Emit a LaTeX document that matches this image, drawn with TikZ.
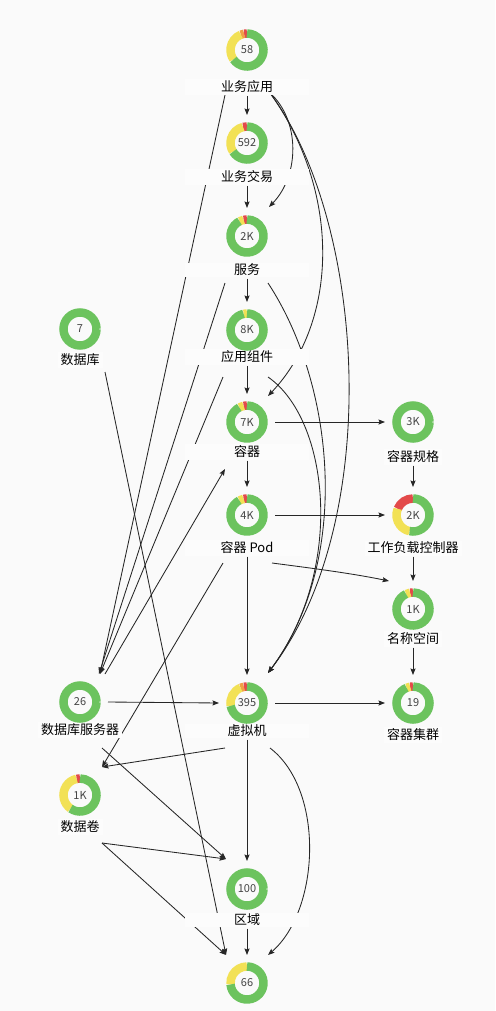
\documentclass[tikz,border=0pt]{standalone}
\usepackage{fontspec}
\setmainfont{Noto Sans CJK SC}
\usetikzlibrary{arrows.meta,calc}
\definecolor{cgreen}{HTML}{6CC35E}
\definecolor{cyellow}{HTML}{F2E155}
\definecolor{cred}{HTML}{E34A4A}
\definecolor{corange}{HTML}{F0A046}
\definecolor{bgc}{HTML}{FAFAFA}
\definecolor{labc}{HTML}{FCFCFC}
\definecolor{edgec}{HTML}{262626}
\definecolor{numc}{HTML}{444444}
\pgfdeclarelayer{bglayer}
\pgfdeclarelayer{edgelayer}
\pgfsetlayers{bglayer,edgelayer,main}
\newcommand\ring[2]{\foreach \cc/\ss/\ee in {#2}{\draw[line width=8.5pt,draw=\cc] ([shift={(\ss:16.5pt)}]#1.center) arc[start angle=\ss,end angle=\ee,radius=16.5pt];}}
\tikzset{
  dn/.style={circle, minimum size=42pt, inner sep=0pt, font=\fontsize{11}{13}\selectfont, text=numc},
  lab/.style={fill=labc, inner xsep=3pt, inner ysep=1.5pt, font=\fontsize{13}{15}\selectfont, text=black},
  midlab/.style={lab, minimum width=124pt},
  e/.style={draw=edgec, line width=0.85pt, -{Stealth[length=6.5pt,width=5pt,inset=1pt]}}
}
\begin{document}
\begin{tikzpicture}[x=1pt,y=1pt]
\begin{pgfonlayer}{bglayer}
\fill[bgc] (0,0) rectangle (495,-1011);
\end{pgfonlayer}
\useasboundingbox (0,0) rectangle (495,-1011);
% labels
\node[midlab] (Al) at (247,-87) {业务应用};
\node[midlab] (Bl) at (247,-177) {业务交易};
\node[midlab] (Cl) at (247,-270) {服务};
\node[midlab] (Dl) at (247,-357) {应用组件};
\node[midlab] (El) at (247,-452) {容器};
\node[midlab] (Fl) at (247,-548) {容器 Pod};
\node[midlab] (Gl) at (247,-731) {虚拟机};
\node[midlab] (Hl) at (247,-920) {区域};
\node[lab] (Jl) at (80,-360) {数据库};
\node[lab] (Kl) at (80,-730) {数据库服务器};
\node[lab] (Ll) at (80,-827) {数据卷};
\node[lab] (Ml) at (413,-457) {容器规格};
\node[lab] (Nl) at (413,-548) {工作负载控制器};
\node[lab] (Ol) at (413,-639) {名称空间};
\node[lab] (Pl) at (413,-735) {容器集群};
% donuts
\node[dn] (A) at (247,-50) {58};
\node[dn] (B) at (247,-143) {592};
\node[dn] (C) at (247,-236) {2K};
\node[dn] (D) at (247,-330) {8K};
\node[dn] (E) at (247,-422) {7K};
\node[dn] (F) at (247,-515) {4K};
\node[dn] (G) at (247,-703) {395};
\node[dn] (H) at (247,-889) {100};
\node[dn] (I) at (247,-983) {66};
\node[dn] (J) at (80,-329) {7};
\node[dn] (K) at (80,-702) {26};
\node[dn] (L) at (80,-795) {1K};
\node[dn] (M) at (413,-422) {3K};
\node[dn] (N) at (413,-515) {2K};
\node[dn] (O) at (413,-609) {1K};
\node[dn] (P) at (413,-703) {19};
\ring{A}{cred/90/100,corange/100/112,cyellow/112/215,cgreen/215/450}
\ring{B}{cred/90/104,cyellow/104/212,cgreen/212/450}
\ring{C}{cred/90/102,cyellow/102/117,cgreen/117/450}
\ring{D}{cyellow/90/102,cgreen/102/450}
\ring{E}{cred/90/102,cyellow/102/118,cgreen/118/450}
\ring{F}{cred/90/102,cyellow/102/118,cgreen/118/450}
\ring{G}{cred/90/101,corange/101/113,cyellow/113/190,cgreen/190/450}
\ring{H}{cgreen/0/360}
\ring{I}{cyellow/90/185,cgreen/185/450}
\ring{J}{cgreen/0/360}
\ring{K}{cgreen/0/360}
\ring{L}{cred/90/102,cyellow/102/235,cgreen/235/450}
\ring{M}{cgreen/0/360}
\ring{N}{cred/90/158,cyellow/158/258,cgreen/258/450}
\ring{O}{cred/90/100,cyellow/100/115,cgreen/115/450}
\ring{P}{cred/90/100,cyellow/100/113,cgreen/113/450}
% edges
\begin{pgfonlayer}{edgelayer}
% vertical chain
\draw[e] ($(Al.south)+(0,-1)$) -- ($(B)+(0,28)$);
\draw[e] ($(Bl.south)+(0,-1)$) -- ($(C)+(0,28)$);
\draw[e] ($(Cl.south)+(0,-1)$) -- ($(D)+(0,28)$);
\draw[e] ($(Dl.south)+(0,-1)$) -- ($(E)+(0,28)$);
\draw[e] ($(El.south)+(0,-1)$) -- ($(F)+(0,28)$);
\draw[e] ($(Fl.south)+(0,-1)$) -- ($(G)+(0,28)$);
\draw[e] ($(Gl.south)+(0,-1)$) -- ($(H)+(0,28)$);
\draw[e] ($(Hl.south)+(0,-1)$) -- ($(I)+(0,28)$);
\draw[e] ($(Ml.south)+(0,-1)$) -- ($(N)+(0,28)$);
\draw[e] ($(Nl.south)+(0,-1)$) -- ($(O)+(0,28)$);
\draw[e] ($(Ol.south)+(0,-1)$) -- ($(P)+(0,28)$);
% horizontal
\draw[e] ($(E)+(28,0)$) -- ($(M)+(-28,0)$);
\draw[e] ($(F)+(28,0)$) -- ($(N)+(-28,0)$);
\draw[e] ($(K)+(28,0)$) -- ($(G)+(-28,0)$);
\draw[e] ($(G)+(28,0)$) -- ($(P)+(-28,0)$);
\draw[e] ($(F)+(25,-48)$) .. controls (310,-568) and (350,-573) .. ($(O)+(-24,28)$);
% right curves
\draw[e] ($(A)+(23,-43)$) .. controls (300,-120) and (300,-175) .. ($(C)+(22,29)$);
\draw[e] ($(A)+(23,-43)$) .. controls (340,-190) and (340,-320) .. ($(E)+(21,26)$);
\draw[e] ($(A)+(23,-43)$) .. controls (365,-220) and (385,-520) .. ($(G)+(21,30)$);
\draw[e] ($(C)+(21,-47)$) .. controls (335,-385) and (352,-560) .. ($(G)+(21,30)$);
\draw[e] ($(D)+(21,-47)$) .. controls (330,-420) and (345,-570) .. ($(G)+(21,30)$);
\draw[e] ($(G)+(23,-45)$) .. controls (325,-790) and (320,-910) .. ($(I)+(21,28)$);
% left lines
\draw[e] ($(A)+(-22,-45)$) -- ($(K)+(20,28)$);
\draw[e] ($(C)+(-22,-47)$) -- ($(K)+(19,28)$);
\draw[e] ($(D)+(-24,-47)$) -- ($(K)+(20,28)$);
\draw[e] ($(K)+(25,28)$) -- ($(E)+(-22,-47)$);
\draw[e] ($(F)+(-24,-48)$) -- ($(L)+(22,28)$);
\draw[e] ($(G)+(-22,-45)$) -- ($(L)+(22,28)$);
\draw[e] ($(K)+(22,-46)$) -- ($(H)+(-21,30)$);
\draw[e] ($(L)+(22,-48)$) -- ($(H)+(-21,30)$);
\draw[e] ($(L)+(22,-48)$) -- ($(I)+(-21,28)$);
\draw[e] ($(J)+(25,-43)$) -- ($(I)+(-21,28)$);
\end{pgfonlayer}
\end{tikzpicture}
\end{document}
